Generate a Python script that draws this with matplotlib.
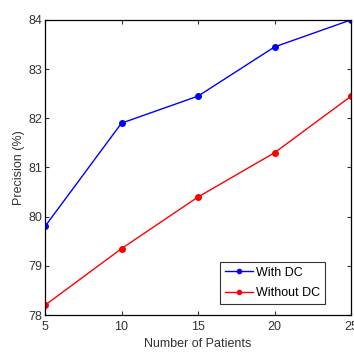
import matplotlib
matplotlib.use("Agg")
import matplotlib.pyplot as plt

patients = [5, 10, 15, 20, 25]
with_dc = [79.8, 81.9, 82.45, 83.45, 84.0]
without_dc = [78.2, 79.35, 80.4, 81.3, 82.45]
xticks = [5, 10, 15, 20, 25]
yticks = [78, 79, 80, 81, 82, 83, 84]

plt.rcParams['font.family'] = ['Liberation Sans Narrow', 'Liberation Sans', 'DejaVu Sans']

fig = plt.figure(figsize=(3.54, 3.54), dpi=100)
ax = fig.add_axes([0.127, 0.110, 0.865, 0.834])

ax.plot(patients, with_dc, color='#0000ff', marker='o', markersize=4, linewidth=1.0, label='With DC')
ax.plot(patients, without_dc, color='#ff0000', marker='o', markersize=4, linewidth=1.0, label='Without DC')

ax.set_xlim(5, 25)
ax.set_ylim(78, 84)
ax.set_xticks(xticks)
ax.set_yticks(yticks)
ax.tick_params(direction='in', top=True, right=True, labelsize=9, length=3, width=0.8, colors='#333333')
ax.tick_params(axis='x', pad=4)
ax.tick_params(axis='y', pad=2)
for s in ax.spines.values():
    s.set_linewidth(0.9)
ax.set_xlabel('Number of Patients', fontsize=9, labelpad=4, color='#333333')
ax.set_ylabel('Precision (%)', fontsize=9, labelpad=2, color='#333333')

leg = ax.legend(loc='lower right', fontsize=9, frameon=True, fancybox=False, edgecolor='black',
                handlelength=2.2, borderpad=0.4, labelspacing=0.7, handletextpad=0.25,
                bbox_to_anchor=(0.935, 0.015))
leg.get_frame().set_linewidth(0.8)
for h in leg.get_lines():
    h.set_markersize(3)

fig.savefig('out.png', dpi=100)
